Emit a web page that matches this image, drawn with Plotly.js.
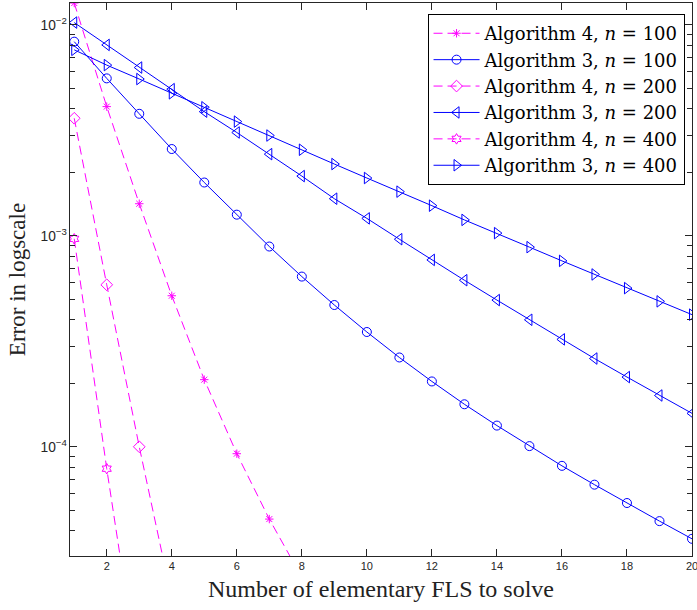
<!DOCTYPE html>
<html>
<head>
<meta charset="utf-8">
<script src="https://cdn.plot.ly/plotly-3.0.1.min.js"></script>
<style>html,body{margin:0;padding:0;background:#fff;}#plot{width:697px;height:610px;}</style>
</head>
<body>
<div id="plot"></div>
<script>
// x values (number of elementary FLS)
const xAlg3 = [1,2,3,4,5,6,7,8,9,10,11,12,13,14,15,16,17,18,19,20];
const xAlg4n100 = [1,2,3,4,5,6,7,8];
const xAlg4n200 = [1,2,3,4];
const xAlg4n400 = [1,2,3];
const xTicks = [2,4,6,8,10,12,14,16,18,20];

// series values
const alg4n100 = [1.27e-2, 4.10e-3, 1.42e-3, 5.20e-4, 2.08e-4, 9.27e-5, 4.54e-5, 2.40e-5];
const alg3n100 = [8.33e-3, 5.58e-3, 3.79e-3, 2.58e-3, 1.79e-3, 1.26e-3, 8.90e-4, 6.41e-4, 4.70e-4, 3.50e-4,
                  2.65e-4, 2.04e-4, 1.59e-4, 1.26e-4, 1.007e-4, 8.12e-5, 6.61e-5, 5.41e-5, 4.44e-5, 3.66e-5];
const alg4n200 = [3.61e-3, 5.86e-4, 1.00e-4, 1.90e-5];
const alg3n200 = [1.026e-2, 8.04e-3, 6.28e-3, 4.96e-3, 3.88e-3, 3.09e-3, 2.44e-3, 1.92e-3, 1.50e-3, 1.21e-3,
                  9.64e-4, 7.69e-4, 6.16e-4, 4.96e-4, 4.00e-4, 3.23e-4, 2.62e-4, 2.14e-4, 1.75e-4, 1.44e-4];
const alg4n400 = [9.68e-4, 7.87e-5, 7.7e-6];
const alg3n400 = [7.62e-3, 6.45e-3, 5.54e-3, 4.74e-3, 4.07e-3, 3.48e-3, 2.99e-3, 2.56e-3, 2.19e-3, 1.88e-3,
                  1.62e-3, 1.39e-3, 1.19e-3, 1.03e-3, 8.84e-4, 7.61e-4, 6.56e-4, 5.65e-4, 4.89e-4, 4.23e-4];

const names = [
  'Algorithm 4, <i>n</i>&nbsp;=&nbsp;100',
  'Algorithm 3, <i>n</i>&nbsp;=&nbsp;100',
  'Algorithm 4, <i>n</i>&nbsp;=&nbsp;200',
  'Algorithm 3, <i>n</i>&nbsp;=&nbsp;200',
  'Algorithm 4, <i>n</i>&nbsp;=&nbsp;400',
  'Algorithm 3, <i>n</i>&nbsp;=&nbsp;400'
];

const MAG = '#FF00FF', BLU = '#0000FF';
function tr(x, y, name, color, dash, symbol, size) {
  return {
    x: x, y: y, name: name, type: 'scatter', mode: 'lines+markers',
    line: {color: color, width: 1, dash: dash},
    marker: {symbol: symbol, size: size, color: color, line: {color: color, width: 1}},
    cliponaxis: true
  };
}
const DASH = '9px,5px';
const data = [
  tr(xAlg4n100, alg4n100, names[0], MAG, DASH, 'asterisk-open', 7),
  tr(xAlg3, alg3n100, names[1], BLU, 'solid', 'circle-open', 9),
  tr(xAlg4n200, alg4n200, names[2], MAG, DASH, 'diamond-open', 9),
  tr(xAlg3, alg3n200, names[3], BLU, 'solid', 'triangle-left-open', 10),
  tr(xAlg4n400, alg4n400, names[4], MAG, DASH, 'hexagram-open', 8),
  tr(xAlg3, alg3n400, names[5], BLU, 'solid', 'triangle-right-open', 10)
];

const axisColor = '#262626';
const serif = 'Liberation Serif';
const layout = {
  width: 697, height: 610,
  margin: {l: 70, r: 5, t: 3, b: 54},
  paper_bgcolor: '#fff', plot_bgcolor: '#fff',
  showlegend: true,
  legend: {
    x: 0.988, y: 0.98, xanchor: 'right', yanchor: 'top',
    bgcolor: '#fff', bordercolor: '#000', borderwidth: 1,
    font: {family: 'DejaVu Serif', size: 18, color: '#000'},
    itemwidth: 46, tracegroupgap: 0
  },
  xaxis: {
    range: [0.87, 20], showgrid: false, zeroline: false,
    tickmode: 'array', tickvals: xTicks,
    ticks: 'inside', ticklen: 7, tickcolor: axisColor,
    showline: true, linecolor: axisColor, linewidth: 1, mirror: 'ticks',
    ticklabeloverflow: 'allow',
    tickfont: {family: 'Liberation Sans', size: 11, color: axisColor},
    title: {text: 'Number of elementary FLS to solve', font: {family: serif, size: 24, color: '#222'}, standoff: 8}
  },
  yaxis: {
    type: 'log', range: [-4.518, -1.896], showgrid: false, zeroline: false,
    dtick: 1, exponentformat: 'power',
    ticks: 'inside', ticklen: 7, tickcolor: axisColor,
    minor: {ticks: 'inside', ticklen: 5, dtick: 'D1', tickcolor: axisColor, showgrid: false},
    showline: true, linecolor: axisColor, linewidth: 1, mirror: 'ticks',
    tickfont: {family: 'Liberation Sans', size: 11, color: axisColor},
    title: {text: 'Error in logscale', font: {family: serif, size: 23, color: '#222'}, standoff: 8}
  }
};
Plotly.newPlot('plot', data, layout, {displayModeBar: false, staticPlot: true});
</script>
</body>
</html>
